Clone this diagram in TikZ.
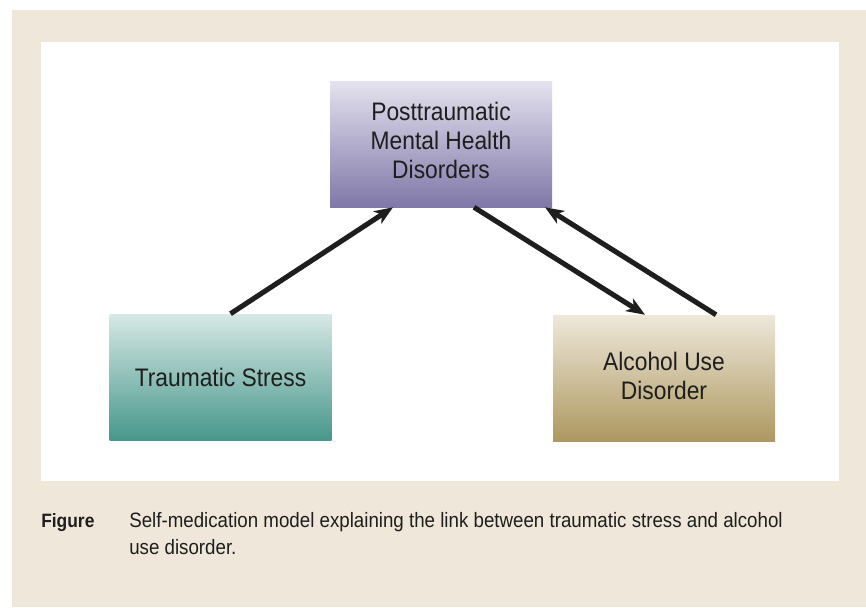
\documentclass[tikz,border=0pt]{standalone}
\usepackage{fontspec}
\setmainfont{Liberation Sans}[FakeStretch=0.9]
\usetikzlibrary{arrows.meta,calc}
\definecolor{paper}{HTML}{EFE8DA}
\definecolor{lavtop}{HTML}{E5E2EF}
\definecolor{lavbot}{HTML}{7F78A8}
\definecolor{teatop}{HTML}{D7E8E5}
\definecolor{teabot}{HTML}{47978B}
\definecolor{santop}{HTML}{EEE8DB}
\definecolor{sanbot}{HTML}{AD985F}
\definecolor{ink}{HTML}{1E1E1E}
\tikzset{bx/.style = {rectangle, minimum width=166.5pt, minimum height=94.5pt, inner sep=0pt,
                      align=center, font=\fontsize{19}{21.75}\selectfont, text=ink},
         ar/.style = {-{Stealth[length=14pt, width=11pt, inset=4pt]}, line width=3.8pt, ink}}

\begin{document}
\begin{tikzpicture}[x=0.75pt, y=-0.75pt]
    \useasboundingbox (0,0) rectangle (866,607);
    \fill[paper] (12,10) rectangle (866,607);
    \fill[white] (41,42) rectangle (839,481);
    \node[bx, top color=lavtop, bottom color=lavbot] (pm) at (441,144) {Posttraumatic\\Mental Health\\Disorders\rule[-5pt]{0pt}{0pt}};
    \node[bx, top color=teatop, bottom color=teabot] (ts) at (220.5,377) {Traumatic Stress};
    \node[bx, top color=santop, bottom color=sanbot] (au) at (664,378) {Alcohol Use\\Disorder\rule[-4pt]{0pt}{0pt}};
    \draw[ar] ($(ts.north)+(10,0)$) -- ($(pm.south)+(-48,0)$);
    \draw[ar] ($(pm.south)+(33,0)$) -- ($(au.north)+(-19,0)$);
    \draw[ar] ($(au.north)+(52,0)$) -- ($(pm.south)+(104,0)$);
    \node[anchor=west, inner sep=0pt, font=\fontsize{14.5}{20}\selectfont\bfseries, text=ink] (fg) at (41,523) {Figure};
    \node[anchor=north west, align=left, inner sep=0pt, font=\fontsize{15.6}{20.5}\selectfont, text=ink] (cp) at (129,512)
        {Self-medication model explaining the link between traumatic stress and alcohol\\use disorder.};
\end{tikzpicture}
\end{document}
